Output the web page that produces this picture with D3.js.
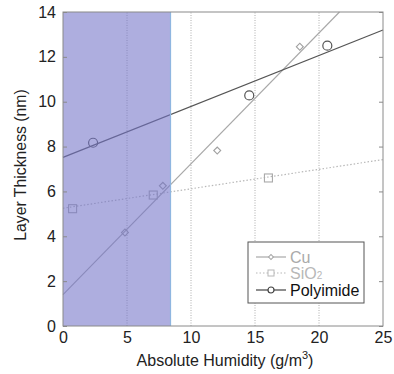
<!DOCTYPE html>
<html>
<head>
<meta charset="utf-8">
<script src="https://cdn.jsdelivr.net/npm/d3@7"></script>
<style>
  body { margin: 0; background: #fff; }
  text { font-family: "Liberation Sans", Arial, sans-serif; }
</style>
</head>
<body>
<div id="chart"></div>
<script>
// data
let xTicks = [0, 5, 10, 15, 20, 25];
let yTicks = [0, 2, 4, 6, 8, 10, 12, 14];
let gridX = [5, 10, 15, 20];
let shadeRange = [0, 8.4];

let cuPoints = [[4.84, 4.17], [7.8, 6.25], [12.05, 7.82], [18.5, 12.45]];
let sioPoints = [[0.75, 5.23], [7.05, 5.84], [16.05, 6.6]];
let polyPoints = [[2.35, 8.17], [14.55, 10.28], [20.65, 12.5]];

let cuFit = [[0, 1.4], [21.6, 14]];
let sioFit = [[0, 5.25], [25, 7.42]];
let polyFit = [[0, 7.52], [25, 13.2]];

let legendNames = ["Cu", "SiO", "Polyimide"];

let width = 394, height = 374;
let margin = { left: 63, right: 11, top: 12, bottom: 48 };

let svg = d3.select("#chart").append("svg")
    .attr("width", width)
    .attr("height", height);

let x = d3.scaleLinear().domain([0, 25]).range([margin.left, width - margin.right]);
let y = d3.scaleLinear().domain([0, 14]).range([height - margin.bottom, margin.top]);

// vertical grid
svg.selectAll(".grid")
    .data(gridX)
    .enter().append("line")
    .attr("class", "grid")
    .attr("x1", d => x(d)).attr("x2", d => x(d))
    .attr("y1", y(0)).attr("y2", y(14))
    .attr("stroke", "#999")
    .attr("stroke-width", 0.8)
    .attr("stroke-dasharray", "1,1.5");

let line = d3.line().x(d => x(d[0])).y(d => y(d[1]));

// fit lines
svg.append("path").datum(sioFit).attr("d", line)
    .attr("fill", "none").attr("stroke", "#b8b8b8").attr("stroke-width", 1.2)
    .attr("stroke-dasharray", "1.5,2");
svg.append("path").datum(cuFit).attr("d", line)
    .attr("fill", "none").attr("stroke", "#a8a8a8").attr("stroke-width", 1.1);
svg.append("path").datum(polyFit).attr("d", line)
    .attr("fill", "none").attr("stroke", "#555").attr("stroke-width", 1.2);

// markers
svg.selectAll(".cu")
    .data(cuPoints)
    .enter().append("path")
    .attr("class", "cu")
    .attr("transform", d => `translate(${x(d[0])},${y(d[1])}) rotate(45)`)
    .attr("d", d3.symbol(d3.symbolSquare, 24))
    .attr("fill", "none").attr("stroke", "#a0a0a0").attr("stroke-width", 1.1);

svg.selectAll(".sio")
    .data(sioPoints)
    .enter().append("rect")
    .attr("class", "sio")
    .attr("x", d => x(d[0]) - 4).attr("y", d => y(d[1]) - 4)
    .attr("width", 8).attr("height", 8)
    .attr("fill", "none").attr("stroke", "#aaa").attr("stroke-width", 1.1);

svg.selectAll(".poly")
    .data(polyPoints)
    .enter().append("circle")
    .attr("class", "poly")
    .attr("cx", d => x(d[0])).attr("cy", d => y(d[1]))
    .attr("r", 4.5)
    .attr("fill", "none").attr("stroke", "#555").attr("stroke-width", 1.2);

// shaded humidity band on top
svg.append("rect")
    .attr("x", x(shadeRange[0]))
    .attr("y", y(14))
    .attr("width", x(shadeRange[1]) - x(shadeRange[0]))
    .attr("height", y(0) - y(14))
    .attr("fill", "rgb(115,115,200)")
    .attr("fill-opacity", 0.58);
svg.append("line")
    .attr("x1", x(shadeRange[1])).attr("x2", x(shadeRange[1]))
    .attr("y1", y(0)).attr("y2", y(14))
    .attr("stroke", "#8fb6e0").attr("stroke-width", 1.2);

// frame
svg.append("rect")
    .attr("x", x(0)).attr("y", y(14))
    .attr("width", x(25) - x(0)).attr("height", y(0) - y(14))
    .attr("fill", "none").attr("stroke", "#8a8a8a").attr("stroke-width", 1);

// axes
let yAxisL = d3.axisLeft(y).tickValues(yTicks).tickSizeInner(-4).tickSizeOuter(0).tickPadding(7);
let yAxisR = d3.axisRight(y).tickValues(yTicks).tickSizeInner(-4).tickSizeOuter(0).tickFormat("");
let xAxis = d3.axisBottom(x).tickValues(xTicks).tickSizeInner(0).tickSizeOuter(0).tickPadding(6);

let gL = svg.append("g").attr("transform", `translate(${x(0)},0)`).call(yAxisL);
let gR = svg.append("g").attr("transform", `translate(${x(25)},0)`).call(yAxisR);
let gB = svg.append("g").attr("transform", `translate(0,${y(0)})`).call(xAxis);

[gL, gR, gB].forEach(g => {
    g.select(".domain").remove();
    g.selectAll("line").attr("stroke", "#8a8a8a");
    g.selectAll("text").attr("font-size", 16).attr("fill", "#222")
        .attr("font-family", "'Liberation Sans', Arial, sans-serif");
});

// axis titles
let xTitle = svg.append("text")
    .attr("x", (x(0) + x(25)) / 2 + 2)
    .attr("y", 366)
    .attr("text-anchor", "middle")
    .attr("font-size", 16)
    .attr("fill", "#222");
xTitle.append("tspan").text("Absolute Humidity (g/m");
xTitle.append("tspan").text("3").attr("font-size", 11).attr("dy", -7);
xTitle.append("tspan").text(")").attr("dy", 7);

svg.append("text")
    .attr("transform", "translate(26,165) rotate(-90)")
    .attr("text-anchor", "middle")
    .attr("font-size", 15.8)
    .attr("fill", "#222")
    .text("Layer Thickness (nm)");

// legend
let lg = svg.append("g").attr("transform", "translate(248,242)");
lg.append("rect")
    .attr("width", 116).attr("height", 61)
    .attr("fill", "#fff").attr("stroke", "#555").attr("stroke-width", 1);

let legendColors = ["#a8a8a8", "#b8b8b8", "#444"];
let legendText = ["#aaa", "#b8b8b8", "#111"];
let rowY = [15, 31, 48];

legendNames.forEach((name, i) => {
    let row = lg.append("g").attr("transform", `translate(0,${rowY[i]})`);
    row.append("line")
        .attr("x1", 8).attr("x2", 38)
        .attr("stroke", legendColors[i]).attr("stroke-width", 1.2)
        .attr("stroke-dasharray", i === 1 ? "1.5,2" : null);
    if (i === 0) {
        row.append("path").attr("transform", "translate(23,0) rotate(45)")
            .attr("d", d3.symbol(d3.symbolSquare, 12))
            .attr("fill", "#fff").attr("stroke", legendColors[i]);
    } else if (i === 1) {
        row.append("rect").attr("x", 20).attr("y", -3).attr("width", 6).attr("height", 6)
            .attr("fill", "#fff").attr("stroke", legendColors[i]);
    } else {
        row.append("circle").attr("cx", 23).attr("r", 3)
            .attr("fill", "#fff").attr("stroke", legendColors[i]).attr("stroke-width", 1.2);
    }
    let t = row.append("text")
        .attr("x", 42).attr("y", 6)
        .attr("font-size", 16)
        .attr("fill", legendText[i])
        .text(name);
    if (i === 1) {
        t.append("tspan").text("2").attr("font-size", 10).attr("dy", 0);
    }
});
</script>
</body>
</html>
